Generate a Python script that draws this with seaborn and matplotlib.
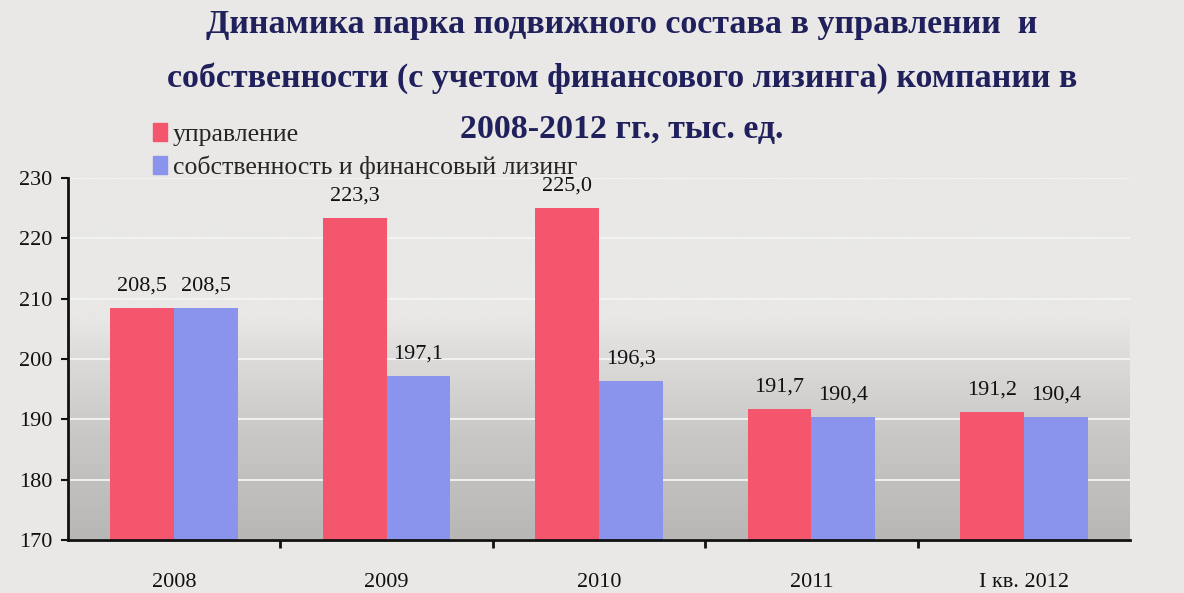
import numpy as np
import pandas as pd
import matplotlib
matplotlib.use("Agg")
import matplotlib.pyplot as plt
import seaborn as sns
from matplotlib.colors import LinearSegmentedColormap

# data
periods = ["2008", "2009", "2010", "2011", "I кв. 2012"]
managed = [208.5, 223.3, 225.0, 191.7, 191.2]
owned_leasing = [208.5, 197.1, 196.3, 190.4, 190.4]
series_names = ["управление", "собственность и финансовый лизинг"]
y_ticks = [170, 180, 190, 200, 210, 220, 230]

title_lines = ["Динамика парка подвижного состава в управлении  и",
               "собственности (с учетом финансового лизинга) компании в",
               "2008-2012 гг., тыс. ед."]

df = pd.DataFrame({
    "period": periods * 2,
    "value": managed + owned_leasing,
    "series": [series_names[0]] * len(periods) + [series_names[1]] * len(periods),
})

sns.set_theme(style="white")
plt.rcParams["font.family"] = ["Liberation Serif", "DejaVu Serif"]

red = "#f4566e"
blue = "#8b94ed"

fig = plt.figure(figsize=(11.84, 5.93), dpi=100)
fig.patch.set_facecolor("#e9e8e6")
ax = fig.add_axes([68 / 1184, 1 - 540 / 593, (1130 - 68) / 1184, (540 - 178) / 593])

# gradient wall behind the bars (light top, grey bottom)
cmap = LinearSegmentedColormap.from_list(
    "wall", [(0.0, "#b8b7b6"), (0.28, "#c8c7c6"), (0.5, "#dcdbda"), (0.62, "#e9e8e6"), (1.0, "#e9e8e6")])
grad = np.linspace(0, 1, 256).reshape(-1, 1)
ax.imshow(grad, cmap=cmap, origin="lower", aspect="auto",
          extent=[-0.5, len(periods) - 0.5, y_ticks[0], y_ticks[-1]], zorder=0)

sns.barplot(data=df, x="period", y="value", hue="series", palette=[red, blue],
            width=0.6, saturation=1, ax=ax, zorder=3, edgecolor="none")

for cont, vals in zip(ax.containers, [managed, owned_leasing]):
    ax.bar_label(cont, labels=[f"{v:.1f}".replace(".", ",") for v in vals],
                 padding=9, fontsize=16, color="#111111")

ax.set_xlim(-0.5, len(periods) - 0.5)
ax.set_ylim(y_ticks[0], y_ticks[-1])
ax.set_yticks(y_ticks)
ax.set_facecolor("none")
ax.grid(axis="y", color="#f4f4f4", lw=1.3, zorder=1)
ax.set_axisbelow(True)
ax.set_xlabel("")
ax.set_ylabel("")

for s in ["top", "right"]:
    ax.spines[s].set_visible(False)
for s in ["left", "bottom"]:
    ax.spines[s].set_color("#111111")
    ax.spines[s].set_linewidth(2)
    ax.spines[s].set_zorder(5)

ax.tick_params(axis="y", labelsize=16, length=5, width=1.5, direction="out",
               colors="#111111", left=True, pad=6)
ax.tick_params(axis="x", which="major", labelsize=16, length=0, pad=24, colors="#111111")
ax.set_xticks(np.arange(len(periods) - 1) + 0.5, minor=True)
ax.tick_params(axis="x", which="minor", length=6, width=2, direction="out",
               colors="#111111", bottom=True)

ax.legend_.remove()
handles = [plt.Rectangle((0, 0), 1, 1, color=c) for c in [red, blue]]
fig.legend(handles, series_names, loc="upper left", bbox_to_anchor=(143 / 1184, 1 - 113 / 593),
           frameon=False, fontsize=18.5, handlelength=0.55, handleheight=0.7,
           handletextpad=0.2, labelspacing=0.35, borderaxespad=0)

# title, one text per line
for line, ypix in zip(title_lines, [25, 78, 130]):
    fig.text(622 / 1184, 1 - ypix / 593, line, ha="center", va="center", fontsize=24.5,
             fontweight="bold", color="#1f205c")

fig.savefig("out.png", dpi=100, facecolor=fig.get_facecolor())
